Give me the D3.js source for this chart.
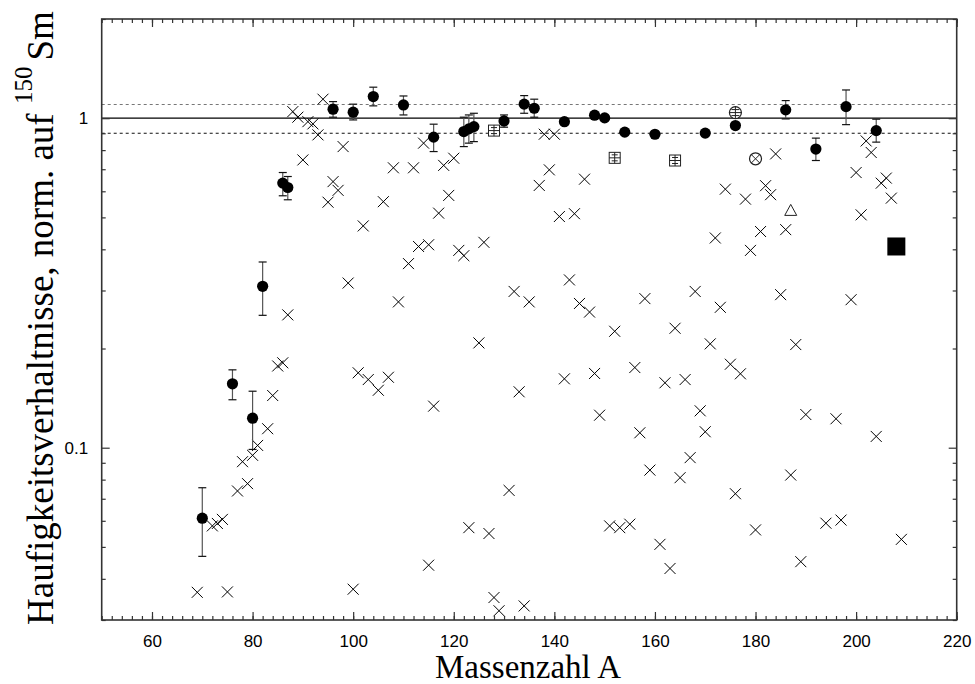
<!DOCTYPE html>
<html><head><meta charset="utf-8">
<script src="https://cdn.jsdelivr.net/npm/d3@7"></script>
<style>body{margin:0;background:#fff}svg{display:block}</style>
</head><body>
<svg id="c" width="975" height="684"></svg>
<script>
// Crosses (mass number, ratio)
const crossA = [69,72,73,74,75,77,78,79,80,81,83,84,85,86,87,88,89,90,91,92,93,94,95,96,97,98,99,100,101,102,103,105,106,107,108,109,111,112,113,114,115,115,116,117,118,119,120,121,122,123,125,126,127,128,129,131,132,133,134,135,137,138,139,140,141,142,143,144,145,146,147,148,149,151,152,153,155,156,157,158,159,161,162,163,164,165,166,167,168,169,170,171,172,173,174,175,176,177,178,179,180,181,182,183,184,185,186,187,188,189,190,194,196,197,199,200,201,202,203,204,205,206,207,209];
const crossV = [0.0364,0.0579,0.0589,0.0606,0.0365,0.0739,0.0907,0.0778,0.0948,0.1016,0.1142,0.144,0.177,0.181,0.253,1.047,1.007,0.747,0.976,0.961,0.890,1.142,0.556,0.642,0.604,0.820,0.316,0.0372,0.1688,0.471,0.161,0.1494,0.558,0.1636,0.707,0.277,0.362,0.707,0.408,0.840,0.413,0.044,0.1337,0.515,0.719,0.583,0.756,0.397,0.3826,0.0572,0.208,0.42,0.0549,0.0351,0.032,0.0742,0.298,0.1478,0.0331,0.277,0.625,0.894,0.697,0.894,0.503,0.1618,0.323,0.513,0.274,0.653,0.258,0.168,0.1255,0.0579,0.2256,0.0572,0.0586,0.1751,0.111,0.2835,0.0855,0.0509,0.1574,0.043,0.2304,0.0811,0.161,0.0933,0.298,0.1294,0.1118,0.2066,0.433,0.2667,0.609,0.1792,0.0725,0.1676,0.568,0.397,0.0563,0.453,0.624,0.586,0.779,0.2914,0.459,0.0826,0.2056,0.0451,0.1261,0.059,0.1224,0.0603,0.2813,0.684,0.509,0.853,0.787,0.1082,0.635,0.658,0.572,0.0527];

// Filled circles with error bars
const dotA  = [70,76,80,82,86,87,96,100,104,110,116,122,123,124,130,134,136,142,148,150,154,160,170,176,186,192,198,204];
const dotV  = [0.0611,0.1563,0.1229,0.3089,0.6353,0.6162,1.065,1.043,1.163,1.097,0.876,0.911,0.928,0.943,0.981,1.103,1.072,0.976,1.021,1.002,0.907,0.894,0.901,0.950,1.06,0.806,1.084,0.917];
const dotLo = [0.0468,0.1398,0.0988,0.2522,0.5815,0.5655,1.007,0.988,1.090,1.023,0.792,0.820,0.840,0.849,0.939,1.035,1.007,null,null,null,null,null,null,null,0.995,0.744,0.956,0.846];
const dotHi = [0.0756,0.1723,0.1484,0.3661,0.6841,0.6653,1.123,1.103,1.242,1.168,0.959,1.007,1.023,1.035,1.023,1.171,1.142,null,null,null,null,null,null,null,1.131,0.870,1.218,0.993];

// Special symbols
const boxA = [128,152,164];
const boxV = [0.917,0.758,0.744];
const oplusA = [176], oplusV = [1.04];
const otimesA = [180], otimesV = [0.753];
const triA = [187], triV = [0.525];
const squareA = [208], squareV = [0.408];

// Axes / ticks / reference lines
const xMajor = [60,80,100,120,140,160,180,200,220];
const xMinor = d3.range(50,221,2);
const yLabelTicks = [0.1,1];
const yMinor = [0.03,0.04,0.05,0.06,0.07,0.08,0.09,0.2,0.3,0.4,0.5,0.6,0.7,0.8,0.9,2];
const refSolid = [1];
const refDashed = [1.1,0.9];

const L = 101.7, R = 956.7, T = 19, B = 620;
const x = d3.scaleLinear().domain([50,220]).range([L,R]);
const y = d3.scaleLog().domain([0.03,2]).range([B,T]);

const svg = d3.select("#c");
const sans = "'Liberation Sans', Arial, sans-serif";
const serif = "'Liberation Serif', 'Times New Roman', serif";

// reference lines
svg.append("g").selectAll("line").data(refSolid).join("line")
  .attr("x1",L).attr("x2",R).attr("y1",d=>y(d)).attr("y2",d=>y(d))
  .attr("stroke","#000").attr("stroke-width",1.2);
svg.append("g").selectAll("line").data(refDashed).join("line")
  .attr("x1",L).attr("x2",R).attr("y1",d=>y(d)).attr("y2",d=>y(d))
  .attr("stroke",(d,i)=> i===0 ? "#777" : "#111").attr("stroke-width",1.1)
  .attr("stroke-dasharray","3,3");

// axes
function styleAxis(g){
  g.select(".domain").remove();
  g.selectAll(".tick line").attr("stroke","#333").attr("stroke-width",1.2);
}
svg.append("g").attr("transform",`translate(0,${B})`)
  .call(d3.axisBottom(x).tickValues(xMinor).tickSize(-4).tickFormat(""))
  .call(styleAxis);
const xb = svg.append("g").attr("transform",`translate(0,${B})`)
  .call(d3.axisBottom(x).tickValues(xMajor).tickSize(-8).tickFormat(d3.format("d")))
  .call(styleAxis);
xb.selectAll("text").attr("y",14.5).attr("font-family",sans).attr("font-size",17).attr("fill","#000");
svg.append("g").attr("transform",`translate(0,${T})`)
  .call(d3.axisTop(x).tickValues(xMinor).tickSize(-4).tickFormat(""))
  .call(styleAxis);
svg.append("g").attr("transform",`translate(0,${T})`)
  .call(d3.axisTop(x).tickValues(xMajor).tickSize(-8).tickFormat(""))
  .call(styleAxis);

svg.append("g").attr("transform",`translate(${L},0)`)
  .call(d3.axisLeft(y).tickValues(yMinor).tickSize(-4).tickFormat(""))
  .call(styleAxis);
const yl = svg.append("g").attr("transform",`translate(${L},0)`)
  .call(d3.axisLeft(y).tickValues(yLabelTicks).tickSize(-8).tickFormat(d=>String(d)))
  .call(styleAxis);
yl.selectAll("text").attr("x",-13.5).attr("font-family",sans).attr("font-size",17).attr("fill","#000");
svg.append("g").attr("transform",`translate(${R},0)`)
  .call(d3.axisRight(y).tickValues(yMinor).tickSize(-4).tickFormat(""))
  .call(styleAxis);
svg.append("g").attr("transform",`translate(${R},0)`)
  .call(d3.axisRight(y).tickValues(yLabelTicks).tickSize(-8).tickFormat(""))
  .call(styleAxis);

// frame
svg.append("rect").attr("x",L).attr("y",T).attr("width",R-L).attr("height",B-T)
  .attr("fill","none").attr("stroke","#333").attr("stroke-width",1.6);

// crosses
const s = 5.5;
svg.append("g").selectAll("path").data(d3.range(crossA.length)).join("path")
  .attr("transform",i=>`translate(${x(crossA[i])},${y(crossV[i])})`)
  .attr("d",`M${-s},${-s}L${s},${s}M${-s},${s}L${s},${-s}`)
  .attr("stroke","#000").attr("stroke-width",1).attr("fill","none");

// error bars
const eb = svg.append("g").attr("stroke","#333").attr("stroke-width",1.2);
d3.range(dotA.length).filter(i=>dotLo[i]!==null).forEach(i=>{
  const cx = x(dotA[i]);
  eb.append("line").attr("x1",cx).attr("x2",cx).attr("y1",y(dotLo[i])).attr("y2",y(dotHi[i])).attr("stroke","#555");
  [dotLo[i],dotHi[i]].forEach(v=>{
    eb.append("line").attr("x1",cx-4).attr("x2",cx+4).attr("y1",y(v)).attr("y2",y(v)).attr("stroke","#111");
  });
});
// filled circles
svg.append("g").selectAll("circle").data(d3.range(dotA.length)).join("circle")
  .attr("cx",i=>x(dotA[i])).attr("cy",i=>y(dotV[i])).attr("r",5.6).attr("fill","#000");

// boxes with inner error bar / plus
const bg = svg.append("g").attr("stroke","#222").attr("stroke-width",1).attr("fill","#fff");
d3.range(boxA.length).forEach(i=>{
  const cx = x(boxA[i]), cy = y(boxV[i]);
  bg.append("rect").attr("x",cx-5.5).attr("y",cy-5.5).attr("width",11).attr("height",11);
  bg.append("path").attr("fill","none")
    .attr("d",`M${cx},${cy-5.5}V${cy+5.5}M${cx-5.5},${cy}H${cx+5.5}M${cx-3},${cy-3}H${cx+3}M${cx-3},${cy+3}H${cx+3}`);
});
// circled plus
d3.range(oplusA.length).forEach(i=>{
  const cx = x(oplusA[i]), cy = y(oplusV[i]);
  svg.append("circle").attr("cx",cx).attr("cy",cy).attr("r",6).attr("fill","#fff").attr("stroke","#222").attr("stroke-width",1.2);
  svg.append("path").attr("stroke","#222").attr("fill","none")
    .attr("d",`M${cx},${cy-6}V${cy+6}M${cx-6},${cy}H${cx+6}M${cx-4},${cy-3}H${cx+4}M${cx-4},${cy+3}H${cx+4}`);
});
// circled x
d3.range(otimesA.length).forEach(i=>{
  const cx = x(otimesA[i]), cy = y(otimesV[i]), k = 4.2;
  svg.append("circle").attr("cx",cx).attr("cy",cy).attr("r",6).attr("fill","#fff").attr("stroke","#222").attr("stroke-width",1.2);
  svg.append("path").attr("stroke","#222").attr("fill","none")
    .attr("d",`M${cx-k},${cy-k}L${cx+k},${cy+k}M${cx-k},${cy+k}L${cx+k},${cy-k}`);
});
// triangle
svg.append("g").selectAll("path").data(d3.range(triA.length)).join("path")
  .attr("transform",i=>`translate(${x(triA[i])},${y(triV[i])})`)
  .attr("d","M0,-6L6,5H-6Z").attr("fill","#fff").attr("stroke","#222").attr("stroke-width",1);
// big filled square
svg.append("g").selectAll("rect").data(d3.range(squareA.length)).join("rect")
  .attr("x",i=>x(squareA[i])-9).attr("y",i=>y(squareV[i])-9).attr("width",18).attr("height",18).attr("fill","#000");

// axis titles
svg.append("text").attr("x",528).attr("y",678).attr("text-anchor","middle")
  .attr("font-family",serif).attr("font-size",33).text("Massenzahl A");
const yt = svg.append("text").attr("transform","translate(53,625) rotate(-90)")
  .attr("font-family",serif).attr("font-size",37);
yt.append("tspan").text("Haufigkeitsverhaltnisse, norm. auf ");
yt.append("tspan").attr("font-size",25).attr("dy",-21).text("150");
yt.append("tspan").attr("dy",21).attr("dx",6).text("Sm");
</script>
</body></html>
